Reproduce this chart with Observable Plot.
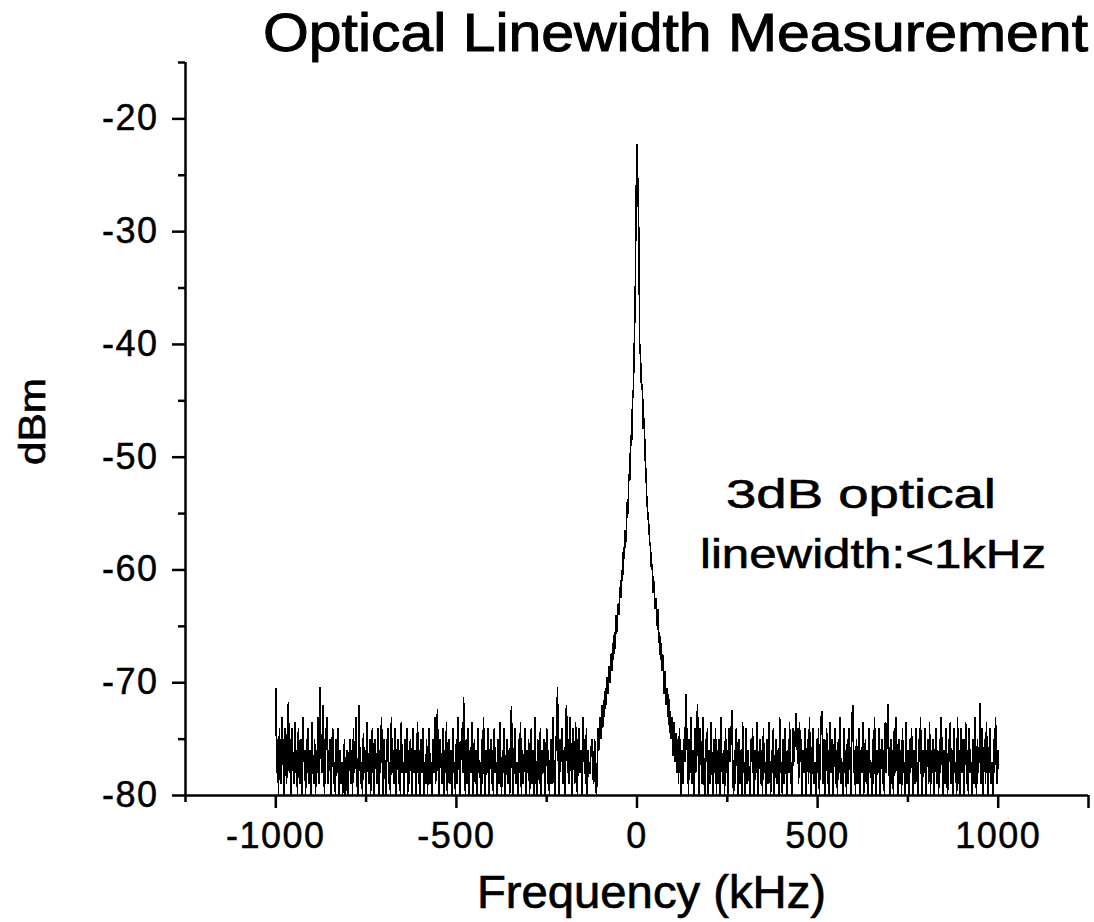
<!DOCTYPE html>
<html>
<head>
<meta charset="utf-8">
<script src="https://cdn.jsdelivr.net/npm/d3@7"></script>
<script src="https://cdn.jsdelivr.net/npm/@observablehq/plot@0.6"></script>
<style>
  html, body { margin: 0; padding: 0; background: #fff; }
  #chart svg text { font-family: "Liberation Sans", Arial, sans-serif; }
  #chart g[aria-label="x-axis tick label"] text,
  #chart g[aria-label="y-axis tick label"] text { letter-spacing: 1.5px; stroke: black; stroke-width: 0.5px; }
  #chart g[aria-label="line"] path { shape-rendering: crispEdges; }
</style>
</head>
<body>
<div id="chart"></div>
<script>
// ---- data ----
const title = "Optical Linewidth Measurement";
const xLabel = "Frequency (kHz)";
const yLabel = "dBm";
const noteLines = ["3dB optical", "linewidth:<1kHz"];

const xMajorTicks = [-1000, -500, 0, 500, 1000];
const xMinorTicks = [-1250, -750, -250, 250, 750];
const xEndTick = [1250];
const yMajorTicks = [-80, -70, -60, -50, -40, -30, -20];
const yMinorTicks = [-75, -65, -55, -45, -35, -25, -15];

// sample grid of the spectrum (kHz)
const freqStart = -1000;
const freqStep = 2.5;

// left noise floor: -1000 .. -132.5 kHz (12 samples per row = 30 kHz)
const dbmLeft = [
  -70.5,-78,-75,-80,-74,-77,-79,-73,-76,-80,-74,-77,
  -79,-73,-71.7,-78,-75,-80,-74,-77,-79,-73.5,-78,-76,
  -80,-74,-77,-79,-75,-80,-73,-77,-76,-80,-75,-78,
  -74,-79,-76,-80,-73.5,-77,-79,-75,-80,-76,-78,-73,
  -79,-70.4,-76,-78,-72,-77,-80,-74,-76,-73,-79,-77,
  -75,-80,-76,-74,-79,-77,-80,-75,-78,-74,-80,-76,
  -79,-77,-80,-78,-75,-80,-79,-76,-80,-77,-75,-79,
  -76,-80,-74,-78,-77,-73,-79,-80,-72,-76,-79,-77,
  -80,-74.5,-78,-76,-80,-73.5,-77,-79,-75,-80,-76,-74,
  -78,-80,-75,-77,-79,-74,-80,-76,-78,-73,-77,-80,
  -75,-78,-80,-76,-74,-79,-77,-80,-73,-78,-76,-79,
  -74,-80,-77,-75,-79,-76,-80,-73.5,-78,-77,-80,-75,
  -78,-74,-80,-76,-79,-75,-77,-80,-74,-78,-76,-80,
  -77,-73.5,-79,-76,-80,-75,-78,-74,-80,-77,-79,-75,
  -80,-76,-74,-79,-77,-80,-75,-78,-73,-79,-76,-72.3,
  -78,-80,-75,-77,-79,-74,-80,-76,-78,-73.5,-80,-77,
  -75,-79,-76,-80,-74,-78,-77,-80,-75,-79,-73,-77,
  -80,-76,-74,-78,-71.3,-77,-80,-75,-79,-74,-80,-76,
  -78,-73.5,-80,-77,-75,-79,-76,-80,-74,-78,-77,-80,
  -75,-79,-73,-77,-80,-76,-78,-74,-80,-77,-75,-79,
  -76,-80,-74,-78,-77,-80,-75,-79,-73.5,-77,-80,-76,
  -78,-74,-80,-77,-75,-79,-76,-80,-74,-72.1,-78,-80,
  -76,-74,-79,-77,-80,-75,-78,-73.5,-80,-76,-79,-77,
  -74,-80,-76,-78,-75,-80,-77,-74,-79,-76,-80,-73,
  -78,-80,-75,-77,-79,-74,-80,-76,-78,-75,-80,-77,
  -74,-79,-76,-80,-77,-75,-79,-73,-78,-80,-76,-74,
  -70.4,-78,-80,-75,-77,-74,-79,-76,-80,-73,-72,-78,
  -75,-79,-73,-77,-80,-74,-76,-79,-73.5,-77,-80,-75,
  -74,-78,-76,-80,-73,-77,-75,-79,-74,-80,-76,-78
];
// central line: -130 .. +130 kHz
const dbmPeak = [
  -78,-76,-75,-78,-79,-75,-76,-80,-78,-74,
  -76,-73,-75,-72,-74,-71.5,-73,-70.5,-72,-69.5,
  -71,-68.5,-70,-67.5,-69,-66.5,-68,-65.5,-67,-64,
  -65.5,-63,-64,-61.5,-62.5,-60,-61,-58,-59,-56.5,
  -57.5,-54,-55,-51.5,-52,-48,-49,-45,-44,-40,
  -36,-27,
  -22.2,
  -26,-30,-40,-41.3,-44,-43.5,-47.5,-46.5,-50,-51.5,
  -54,-55,-56,-57.5,-58,-60,-59.5,-62,-61,-63.5,
  -62.5,-65,-63.5,-66.5,-65.5,-68,-66.5,-69,-67.5,-71,
  -69,-72,-70.5,-73,-71,-74.5,-72.5,-75,-73,-76.5,
  -73.5,-77,-74.5,-78,-75,-79,-74,-77.5,-80,-76,
  -79,-75
];
// right noise floor: +132.5 .. +1000 kHz (12 samples per row = 30 kHz)
const dbmRight = [
  -77,-71,-76,-74,-80,-75,-78,-73,-79,-76,-80,-74,
  -78,-75,-71.9,-77,-80,-74,-76,-79,-73,-78,-80,-75,
  -77,-74,-80,-76,-79,-73.5,-77,-80,-75,-78,-74,-80,
  -76,-79,-75,-80,-73,-77,-79,-76,-80,-74,-78,-76,
  -80,-74,-77,-75,-72.4,-78,-80,-76,-79,-74,-77,-80,
  -75,-79,-76,-80,-73.5,-78,-77,-80,-74,-79,-76,-78,
  -80,-75,-77,-74,-79,-80,-76,-78,-73.5,-80,-77,-75,
  -79,-76,-80,-74,-78,-77,-80,-75,-79,-73.5,-77,-80,
  -76,-78,-74,-80,-77,-75,-79,-76,-80,-73,-78,-77,
  -80,-75,-79,-74,-77,-80,-76,-78,-73.5,-79,-77,-80,
  -74,-77,-75,-72.7,-76,-74,-79,-73.5,-77,-75,-80,-76,
  -78,-74,-80,-77,-75,-79,-73,-78,-80,-76,-74,-79,
  -77,-80,-75,-78,-74,-80,-76,-73,-72.5,-79,-75,-80,
  -77,-74,-79,-76,-80,-73.5,-78,-75,-80,-77,-74,-79,
  -76,-80,-75,-78,-73,-79,-77,-80,-74,-78,-76,-80,
  -75,-79,-74,-77,-80,-73,-72,-78,-76,-80,-75,-77,
  -79,-74,-80,-76,-78,-73.5,-80,-77,-75,-79,-76,-80,
  -74,-78,-77,-80,-75,-79,-73,-77,-80,-76,-78,-74,
  -80,-77,-75,-79,-76,-80,-73.5,-78,-74,-71.9,-77,-80,
  -75,-79,-76,-80,-74,-78,-73,-77,-80,-75,-79,-76,
  -80,-74,-78,-77,-80,-73.5,-79,-76,-80,-75,-78,-74,
  -77,-80,-76,-79,-74,-78,-80,-75,-77,-73,-79,-80,
  -76,-78,-74,-80,-77,-75,-79,-73.5,-80,-76,-78,-75,
  -80,-77,-74,-79,-76,-80,-75,-78,-73,-77,-80,-76,
  -79,-74,-78,-80,-75,-77,-73.5,-79,-76,-80,-74,-78,
  -77,-80,-73,-79,-76,-80,-74,-78,-75,-80,-77,-73.5,
  -79,-76,-80,-74,-78,-77,-80,-75,-79,-73,-77,-80,
  -75,-78,-76,-71.8,-79,-74,-80,-77,-75,-79,-73.5,-78,
  -80,-76,-74,-79,-77,-80,-75,-78,-73,-76,-79,-76
];

const dbm = [...dbmLeft, ...dbmPeak, ...dbmRight];
const spectrum = dbm.map((v, i) => ({ f: freqStart + i * freqStep, db: v }));

// ---- chart ----
const W = 1094, H = 922;
const fmt = d => String(d);
const plot = Plot.plot({
  width: W,
  height: H,
  marginLeft: 185,
  marginRight: 6,
  marginTop: 62,
  marginBottom: 127,
  style: { background: "white", fontFamily: "Liberation Sans, Arial, sans-serif", color: "black" },
  x: { domain: [-1250, 1250] },
  y: { domain: [-80, -15] },
  marks: [
    Plot.line(spectrum, { x: "f", y: "db", stroke: "black", strokeWidth: 1.6, strokeLinejoin: "miter", strokeMiterlimit: 2 }),
    Plot.ruleY([-80], { stroke: "black", strokeWidth: 2.5 }),
    Plot.ruleX([-1250], { stroke: "black", strokeWidth: 2.5 }),
    Plot.axisX(xMajorTicks, { tickSize: 13, tickPadding: 14, fontSize: 36, strokeWidth: 2.5, tickFormat: fmt, label: null }),
    Plot.axisX(xMinorTicks, { tickSize: 7, strokeWidth: 2.5, tickFormat: () => "", label: null }),
    Plot.axisX(xEndTick, { tickSize: 13, strokeWidth: 2.5, tickFormat: () => "", label: null }),
    Plot.axisY(yMajorTicks, { tickSize: 13, tickPadding: 14, fontSize: 36, strokeWidth: 2.5, tickFormat: fmt, label: null }),
    Plot.axisY(yMinorTicks, { tickSize: 7, strokeWidth: 2.5, tickFormat: () => "", label: null })
  ]
});
document.getElementById("chart").appendChild(plot);

// ---- titles and annotation ----
const svg = d3.select(plot);
const addText = (txt, x, y, size, len, anchor, sw, rotate) => {
  const t = svg.append("text")
    .attr("x", x).attr("y", y)
    .attr("font-size", size)
    .attr("fill", "black")
    .attr("stroke", "black")
    .attr("stroke-width", sw)
    .attr("text-anchor", anchor)
    .attr("textLength", len)
    .attr("lengthAdjust", "spacingAndGlyphs")
    .style("font-family", "Liberation Sans, Arial, sans-serif")
    .text(txt);
  if (rotate) t.attr("transform", `rotate(-90 ${x} ${y})`);
  return t;
};
addText(title, 675.5, 51, 54, 825, "middle", 1.0);
addText(xLabel, 651.5, 908, 46, 349, "middle", 0.7);
addText(yLabel, 45, 421.5, 37, 87, "middle", 0.7, true);
addText(noteLines[0], 861, 508, 41, 270, "middle", 0.6);
addText(noteLines[1], 873, 568, 41, 346, "middle", 0.6);
</script>
</body>
</html>
